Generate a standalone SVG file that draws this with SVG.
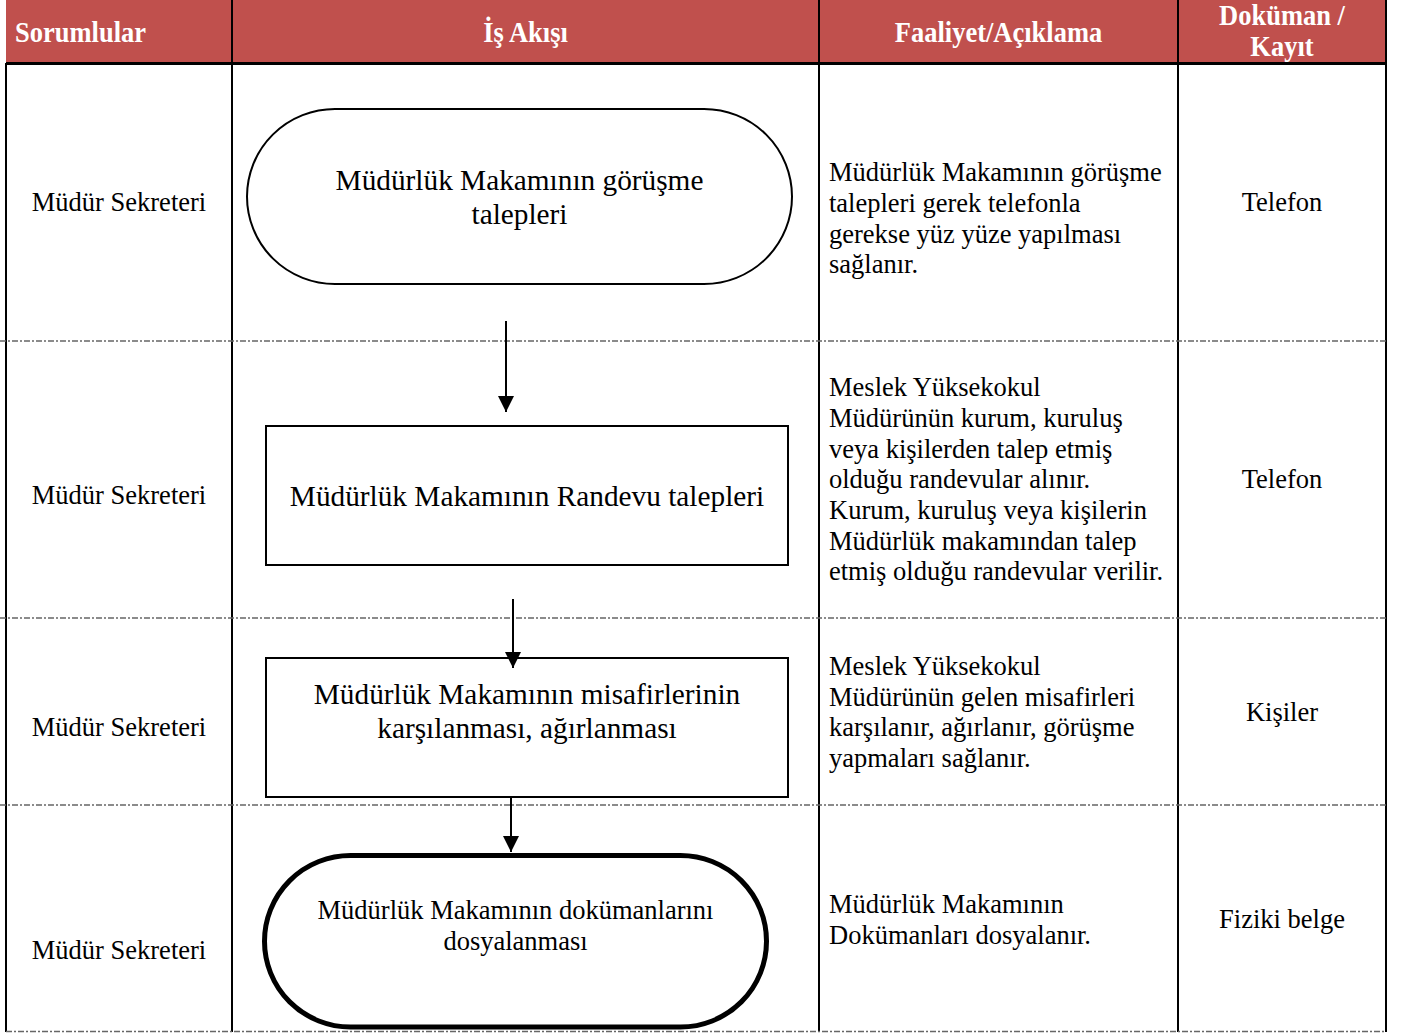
<svg xmlns="http://www.w3.org/2000/svg" width="1404" height="1034" viewBox="0 0 1404 1034">
<defs>
<style>
.hd{font-family:"Liberation Serif","Times New Roman",serif;font-weight:bold;font-size:26.5px;fill:#fff}
.t{font-family:"Liberation Serif","Times New Roman",serif;font-size:26.5px;fill:#000}
.big{font-family:"Liberation Serif","Times New Roman",serif;font-size:29.3px;fill:#000}
.c{text-anchor:middle}
.grid{stroke:#000;stroke-width:2;fill:none}
.sep{stroke:#666;stroke-width:1.3;stroke-dasharray:6 2 2 2;fill:none}
.shape{fill:#fff;stroke:#000;stroke-width:2}
.thick{stroke-width:5}
.conn{stroke:#000;stroke-width:2;fill:none;marker-end:url(#ah)}
</style>
<marker id="ah" viewBox="0 0 10 10" refX="10" refY="5" markerWidth="16" markerHeight="16" markerUnits="userSpaceOnUse" orient="auto">
<path d="M0,0 L10,5 L0,10 z" fill="#000"/>
</marker>
</defs>
<rect width="1404" height="1034" fill="#fff"/>
<g id="header">
<rect x="6" y="0" width="1380" height="63" fill="#C0504D"/>
<text class="hd" transform="translate(15,42) scale(1,1.12)">Sorumlular</text>
<text class="hd c" transform="translate(525.5,42) scale(1,1.12)">İş Akışı</text>
<text class="hd c" transform="translate(998.5,42) scale(1,1.12)">Faaliyet/Açıklama</text>
<text class="hd c" transform="translate(1282,25) scale(1,1.12)">Doküman /</text>
<text class="hd c" transform="translate(1282,56) scale(1,1.12)">Kayıt</text>
</g>
<g id="grid">
<line class="grid" x1="232" y1="0" x2="232" y2="1032"/>
<line class="grid" x1="819" y1="0" x2="819" y2="1032"/>
<line class="grid" x1="1178" y1="0" x2="1178" y2="1032"/>
<line class="grid" x1="1386" y1="0" x2="1386" y2="1032"/>
<line class="grid" x1="6" y1="63" x2="6" y2="1032"/>
<line x1="6" y1="63.5" x2="1387" y2="63.5" stroke="#000" stroke-width="3"/>
<line class="sep" x1="0" y1="341" x2="1386" y2="341"/>
<line class="sep" x1="0" y1="618" x2="1386" y2="618"/>
<line class="sep" x1="0" y1="805" x2="1386" y2="805"/>
<line class="sep" x1="6" y1="1031.5" x2="1386" y2="1031.5"/>
</g>
<g id="responsibles">
<text class="t c" x="119" y="211">Müdür Sekreteri</text>
<text class="t c" x="119" y="504">Müdür Sekreteri</text>
<text class="t c" x="119" y="736">Müdür Sekreteri</text>
<text class="t c" x="119" y="959">Müdür Sekreteri</text>
</g>
<g id="node1">
<rect class="shape" x="247" y="109" width="545" height="175" rx="88" ry="88"/>
<text class="big c" x="519.5" y="190">Müdürlük Makamının görüşme</text>
<text class="big c" x="519.5" y="224">talepleri</text>
</g>
<g id="node2">
<rect class="shape" x="266" y="426" width="522" height="139"/>
<text class="big c" x="527" y="506">Müdürlük Makamının Randevu talepleri</text>
</g>
<g id="node3">
<rect class="shape" x="266" y="658" width="522" height="139"/>
<text class="big c" x="527" y="704">Müdürlük Makamının misafirlerinin</text>
<text class="big c" x="527" y="738">karşılanması, ağırlanması</text>
</g>
<g id="node4">
<rect class="shape thick" x="264.5" y="855.5" width="502" height="171.5" rx="86" ry="86"/>
<text class="t c" x="515.5" y="919">Müdürlük Makamının dokümanlarını</text>
<text class="t c" x="515.5" y="950">dosyalanması</text>
</g>
<g id="connectors">
<line class="conn" x1="506" y1="321" x2="506" y2="412"/>
<line class="conn" x1="513" y1="599" x2="513" y2="668"/>
<line class="conn" x1="511" y1="798" x2="511" y2="852"/>
</g>
<g id="descriptions">
<text class="t" x="829" y="181">Müdürlük Makamının görüşme</text>
<text class="t" x="829" y="212">talepleri gerek telefonla</text>
<text class="t" x="829" y="243">gerekse yüz yüze yapılması</text>
<text class="t" x="829" y="273">sağlanır.</text>
<text class="t" x="829" y="396">Meslek Yüksekokul</text>
<text class="t" x="829" y="427">Müdürünün kurum, kuruluş</text>
<text class="t" x="829" y="458">veya kişilerden talep etmiş</text>
<text class="t" x="829" y="488">olduğu randevular alınır.</text>
<text class="t" x="829" y="519">Kurum, kuruluş veya kişilerin</text>
<text class="t" x="829" y="550">Müdürlük makamından talep</text>
<text class="t" x="829" y="580">etmiş olduğu randevular verilir.</text>
<text class="t" x="829" y="675">Meslek Yüksekokul</text>
<text class="t" x="829" y="706">Müdürünün gelen misafirleri</text>
<text class="t" x="829" y="736">karşılanır, ağırlanır, görüşme</text>
<text class="t" x="829" y="767">yapmaları sağlanır.</text>
<text class="t" x="829" y="913">Müdürlük Makamının</text>
<text class="t" x="829" y="944">Dokümanları dosyalanır.</text>
</g>
<g id="documents">
<text class="t c" x="1282" y="211">Telefon</text>
<text class="t c" x="1282" y="488">Telefon</text>
<text class="t c" x="1282" y="721">Kişiler</text>
<text class="t c" x="1282" y="928">Fiziki belge</text>
</g>
</svg>
